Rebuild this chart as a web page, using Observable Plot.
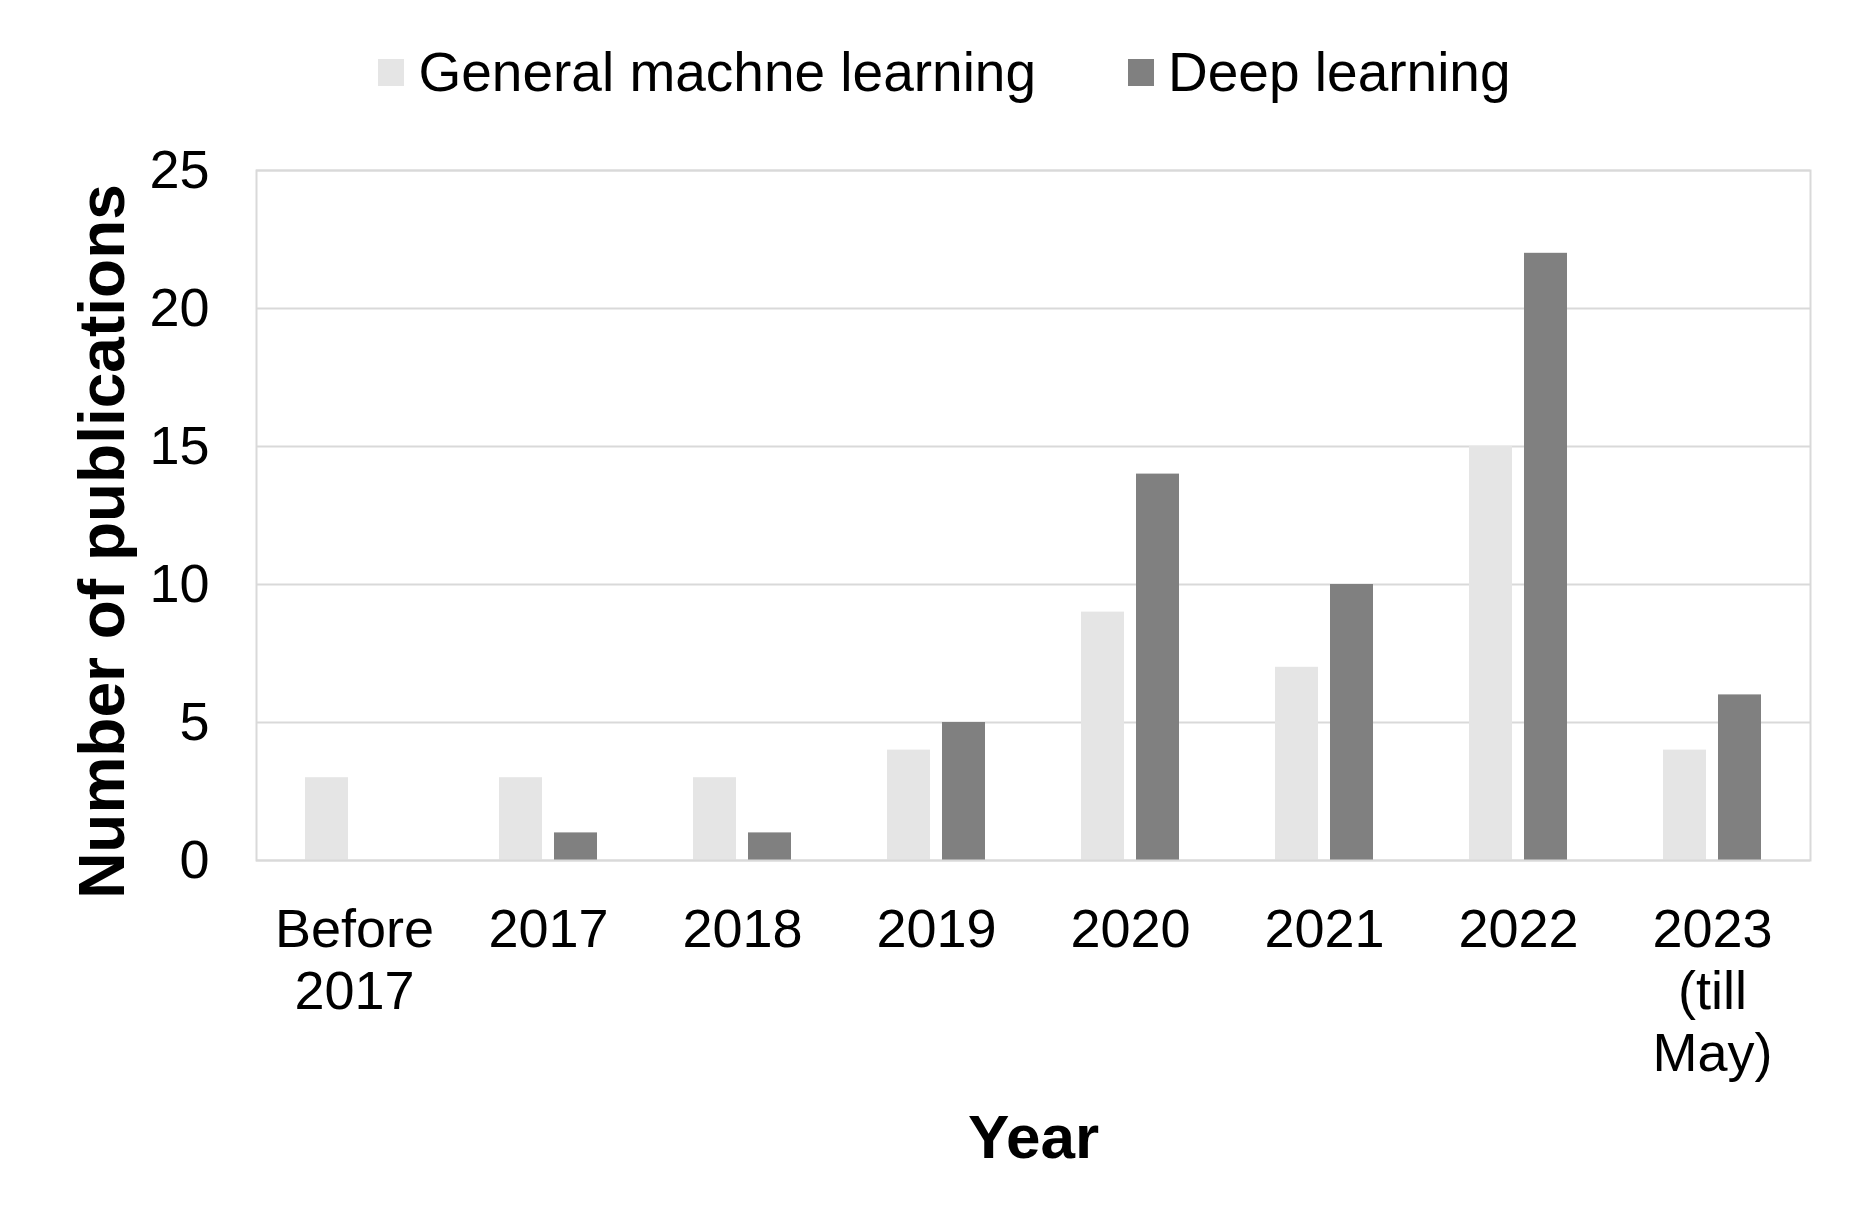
<!DOCTYPE html>
<html>
<head>
<meta charset="utf-8">
<script src="https://cdn.jsdelivr.net/npm/d3@7"></script>
<script src="https://cdn.jsdelivr.net/npm/@observablehq/plot@0.6"></script>
<style>
  html, body { margin: 0; padding: 0; background: #fff; }
  body { width: 1870px; height: 1232px; font-family: "Liberation Sans", Arial, sans-serif; }
  #legend { height: 144px; display: flex; align-items: center; justify-content: center; font-size: 55px; color: #000; padding-left: 19px; }
  .item { display: flex; align-items: center; }
  .sw { width: 26px; height: 27px; margin-right: 14px; }
  .gap { width: 92px; }
</style>
</head>
<body>
<div id="legend"></div>
<div id="chart"></div>
<script>
const categories = ["Before\n2017", "2017", "2018", "2019", "2020", "2021", "2022", "2023\n(till\nMay)"];
const seriesNames = ["General machne learning", "Deep learning"];
const generalML = [3, 3, 3, 4, 9, 7, 15, 4];
const deepLearning = [0, 1, 1, 5, 14, 10, 22, 6];
const seriesColors = ["#e5e5e5", "#808080"];
const yTicks = [0, 5, 10, 15, 20, 25];

const gml = categories.map((c, i) => ({cat: c, value: generalML[i]}));
const dl = categories.map((c, i) => ({cat: c, value: deepLearning[i]}));

// legend
const legend = document.getElementById("legend");
seriesNames.forEach((name, i) => {
  if (i > 0) { const g = document.createElement("div"); g.className = "gap"; legend.appendChild(g); }
  const it = document.createElement("div"); it.className = "item";
  const sw = document.createElement("div"); sw.className = "sw"; sw.style.background = seriesColors[i];
  const tx = document.createElement("span"); tx.textContent = name;
  it.appendChild(sw); it.appendChild(tx); legend.appendChild(it);
});

const font = "Liberation Sans, Arial, sans-serif";
const chart = Plot.plot({
  width: 1870,
  height: 1088,
  marginTop: 26,
  marginBottom: 372,
  marginLeft: 256,
  marginRight: 60,
  style: {fontFamily: font, fontSize: "54px", color: "#000", background: "#fff", overflow: "visible"},
  x: {domain: categories, padding: 0},
  y: {domain: [0, 25]},
  marks: [
    Plot.gridY(yTicks, {stroke: "#d9d9d9", strokeOpacity: 1, strokeWidth: 2}),
    Plot.barY(gml, {x: "cat", y: "value", fill: seriesColors[0], insetLeft: 48, insetRight: 103}),
    Plot.barY(dl, {x: "cat", y: "value", fill: seriesColors[1], insetLeft: 103, insetRight: 48}),
    Plot.frame({stroke: "#d9d9d9", strokeWidth: 2}),
    Plot.axisY({ticks: yTicks, tickSize: 0, tickPadding: 47, label: null, fontSize: 54}),
    Plot.axisX({tickSize: 0, tickPadding: 42, label: null, lineHeight: 1.15, fontSize: 54}),
    Plot.text(["Year"], {frameAnchor: "bottom", text: d => d, dy: 297, lineAnchor: "bottom", fontSize: 62, fontWeight: "bold"}),
    Plot.text(["Number of publications"], {frameAnchor: "left", text: d => d, textAnchor: "middle", rotate: -90, dx: -133, dy: 26, lineAnchor: "bottom", fontSize: 64, fontWeight: "bold"})
  ]
});
document.getElementById("chart").appendChild(chart);
</script>
</body>
</html>
